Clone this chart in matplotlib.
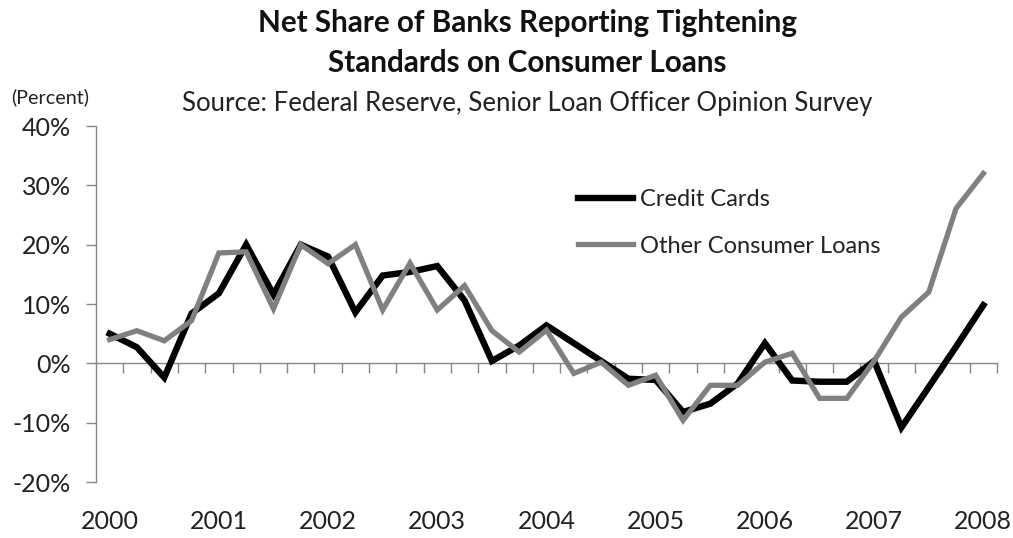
import matplotlib
matplotlib.use("Agg")
import matplotlib.pyplot as plt
from matplotlib.ticker import FixedLocator, FuncFormatter

plt.rcParams['font.family'] = ['Lato', 'DejaVu Sans']

years = ["2000", "2001", "2002", "2003", "2004", "2005", "2006", "2007", "2008"]
credit_cards = [5, 2.7, -2.4, 8.4, 11.8, 20, 11.6, 20, 18, 8.6,
                14.8, 15.4, 16.4, 10.6, 0.4, 3, 6.4, 3.4, 0.4, -2.6,
                -2.8, -8.2, -6.8, -3.4, 3.4, -2.9, -3.1, -3.1, 0.4, -10.8,
                -4, 2.8, 9.8]
other_loans = [4, 5.5, 3.8, 7.2, 18.6, 18.8, 9.2, 20, 16.8, 20,
               9, 16.9, 9, 13.1, 5.5, 1.9, 5.6, -1.7, 0.2, -3.7,
               -2, -9.6, -3.7, -3.7, 0.2, 1.7, -5.9, -5.9, 0.4, 7.8,
               12, 26.1, 32]

x = list(range(len(credit_cards)))
grey = "#868686"
txt = "#222222"

fig = plt.figure(figsize=(10.13, 5.38), dpi=100)
ax = fig.add_axes([96/1013, 1-482/538, (997-96)/1013, (482-126)/538])

ax.plot(x, credit_cards, color="black", lw=4.6, solid_joinstyle="miter", label="Credit Cards", zorder=3)
ax.plot(x, other_loans, color="#808080", lw=3.8, solid_joinstyle="miter", label="Other Consumer Loans", zorder=4)

ax.set_xlim(-0.5, len(x) - 0.5)
ax.set_ylim(-20, 40)

for s in ["top", "right", "bottom"]:
    ax.spines[s].set_visible(False)
ax.spines["left"].set_color(grey)
ax.spines["left"].set_linewidth(1.0)

ax.yaxis.set_major_locator(FixedLocator([-20, -10, 0, 10, 20, 30, 40]))
ax.yaxis.set_major_formatter(FuncFormatter(lambda v, p: f"{int(v)}%"))
ax.tick_params(axis="y", direction="out", length=7, width=1.0, color=grey,
               labelsize=18, labelcolor=txt, pad=11)

# bottom labels (years)
ax.set_xticks(list(range(0, len(x), 4)))
ax.set_xticklabels(years)
ax.tick_params(axis="x", length=0, labelsize=18, labelcolor=txt, pad=20)

# category axis at zero
sec = ax.secondary_xaxis(1/3)
sec.spines["bottom"].set_color(grey)
sec.spines["bottom"].set_linewidth(1.0)
sec.set_xticks([i + 0.5 for i in range(len(x))])
sec.tick_params(axis="x", direction="out", length=7, width=1.0, color=grey, labelbottom=False)

leg = ax.legend(loc="upper left", bbox_to_anchor=(578/1013, 1-189/538), bbox_transform=fig.transFigure,
                frameon=False, fontsize=17, handlelength=2.33, handletextpad=0.3,
                labelspacing=1.09, borderpad=0, borderaxespad=0)
for t in leg.get_texts():
    t.set_color(txt)

fig.text(528/1013, 1-23/538, "Net Share of Banks Reporting Tightening", ha="center", va="center",
         fontsize=21.3, fontweight="bold", color="#111111")
fig.text(527/1013, 1-63/538, "Standards on Consumer Loans", ha="center", va="center",
         fontsize=21.3, fontweight="bold", color="#111111")
fig.text(527/1013, 1-103/538, "Source: Federal Reserve, Senior Loan Officer Opinion Survey", ha="center",
         va="center", fontsize=18.5, color=txt)
fig.text(11/1013, 1-97/538, "(Percent)", ha="left", va="center", fontsize=14.2, color=txt)

fig.savefig("out.png", dpi=100)
